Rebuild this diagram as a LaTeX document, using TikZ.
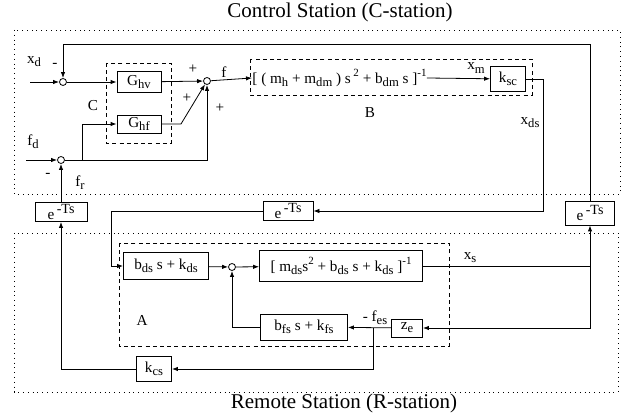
\documentclass[tikz,border=0pt]{standalone}
\usepackage{fontspec}
\setmainfont{Liberation Serif}
\usetikzlibrary{arrows.meta}
\newcommand{\ix}[1]{\raisebox{-0.45ex}{\fontsize{6.3}{6}\selectfont #1}}
\newcommand{\pw}[1]{\raisebox{0.9ex}{\fontsize{5.5}{6}\selectfont #1}}
\newcommand{\dl}{e\,\raisebox{0.75ex}{\fontsize{7}{7}\selectfont -Ts}}

\begin{document}
\begin{tikzpicture}[x=0.5pt,y=-0.5pt,>={Latex[length=3pt,width=2.2pt]}]
\tikzstyle{every node}+=[font=\fontsize{7.6}{8}\selectfont]
\tikzstyle{blk}=[draw,rectangle,inner sep=0pt]
\tikzstyle{sumj}=[draw,circle,inner sep=0pt,minimum size=3.5pt]
\tikzstyle{dashbox}=[dash pattern=on 2pt off 1.6pt]
\tikzstyle{dotbox}=[dotted]
\tikzstyle{ttl}=[font=\fontsize{10.5}{12}\selectfont]
\useasboundingbox (0,0) rectangle (624,415);
% station frames
\draw [dotbox] (14,30) rectangle (620,194);
\draw [dotbox] (14,233) rectangle (618,392);
\node [ttl] (ctitle) at (340,12) {Control Station (C-station)};
\node [ttl] (rtitle) at (344,403) {Remote Station (R-station)};
% subsystem boxes
\draw [dashbox] (106,63) rectangle (171,143);
\draw [dashbox] (250,59) rectangle (532,95);
\draw [dashbox] (119,243) rectangle (449,346);
\node (cname) at (93,106) {C};
\node (bname) at (370,113) {B};
\node (aname) at (142,320) {A};
% blocks
\node [blk,minimum width=22pt,minimum height=10.5pt] (ghv) at (139,82) {G\ix{hv}};
\node [blk,minimum width=22pt,minimum height=9pt] (ghf) at (139,124) {G\ix{hf}};
\node [anchor=west,inner sep=0pt] (bexpr) at (252,78) {[ ( m\ix{h} + m\ix{dm} ) s\,\pw{2} + b\ix{dm} s ]\pw{-1}};
\node [blk,minimum width=17.5pt,minimum height=12.5pt] (ksc) at (508,79) {k\ix{sc}};
\node [blk,minimum width=25pt,minimum height=9.5pt] (dlyc) at (288,211) {\dl};
\node [blk,minimum width=26pt,minimum height=9.5pt] (dlyl) at (61,212) {\dl};
\node [blk,minimum width=24.5pt,minimum height=12pt] (dlyr) at (590,213) {\dl};
\node [blk,minimum width=42.5pt,minimum height=13.5pt] (bds) at (166,266) {b\ix{ds} s + k\ix{ds}};
\node [blk,minimum width=81.5pt,minimum height=15.5pt] (mds) at (341,266) {[ m\ix{ds}s\pw{2} + b\ix{ds} s + k\ix{ds} ]\pw{-1}};
\node [blk,minimum width=43.5pt,minimum height=13pt] (bfs) at (304,327) {b\ix{fs} s + k\ix{fs}};
\node [blk,minimum width=15.5pt,minimum height=9pt] (ze) at (407,328) {z\ix{e}};
\node [blk,minimum width=17.5pt,minimum height=12.5pt] (kcs) at (154,369) {k\ix{cs}};
% summing junctions
\node [sumj] (sum1) at (63,82) {};
\node [sumj] (sum2) at (207,81) {};
\node [sumj] (sum3) at (61,160) {};
\node [sumj] (sum4) at (232,267) {};
% free ends and bends
\coordinate (xdin) at (30,82);
\coordinate (fdin) at (26,160);
\coordinate (gkink) at (181,124);
\coordinate (fdbr) at (82,160);
\coordinate (xdsc) at (543,211);
\coordinate (turna) at (111,211);
\coordinate (xsbr) at (590,266);
\coordinate (febr) at (373,328);
% control station
\draw [->] (xdin) -- (sum1);
\draw [->] (dlyr.north) -- (dlyr.north |- 0,44) -| (sum1);
\draw [->] (sum1) -- (ghv);
\draw [->] (ghv) -- (sum2);
\draw [->] (ghf) -- (gkink) -- (sum2);
\draw [->] (fdin) -- (sum3);
\draw [->] (sum3) -| (sum2);
\draw [->] (fdbr) |- (ghf);
\draw [->] (dlyl) -- (sum3);
\draw [->] (sum2) -- (bexpr.west);
\draw [->] (bexpr.east) -- (ksc);
\draw [->] (ksc) -| (xdsc) -- (dlyc);
% remote station
\draw [->] (dlyc) -- (turna) |- (bds);
\draw [->] (bds) -- (sum4);
\draw [->] (sum4) -- (mds);
\draw [->] (mds) -| (dlyr);
\draw [->] (xsbr) |- (ze);
\draw [->] (ze) -- (bfs);
\draw [->] (bfs) -| (sum4);
\draw [->] (febr) |- (kcs);
\draw [->] (kcs) -| (dlyl);
% signal labels
\node (lxd) at (34,62) {x\ix{d}};
\node (mxd) at (55,65) {-};
\node (lfd) at (33,142) {f\ix{d}};
\node (mfd) at (48,175) {-};
\node (lfr) at (80,183) {f\ix{r}};
\node (pa) at (193,69) {+};
\node (pb) at (187,98) {+};
\node (pc) at (220,108) {+};
\node (lf) at (224,72) {f};
\node (lxm) at (476,68) {x\ix{m}};
\node (lxds) at (530,123) {x\ix{ds}};
\node (lxs) at (470,258) {x\ix{s}};
\node (lfes) at (375,318) {- f\ix{es}};
\end{tikzpicture}
\end{document}
